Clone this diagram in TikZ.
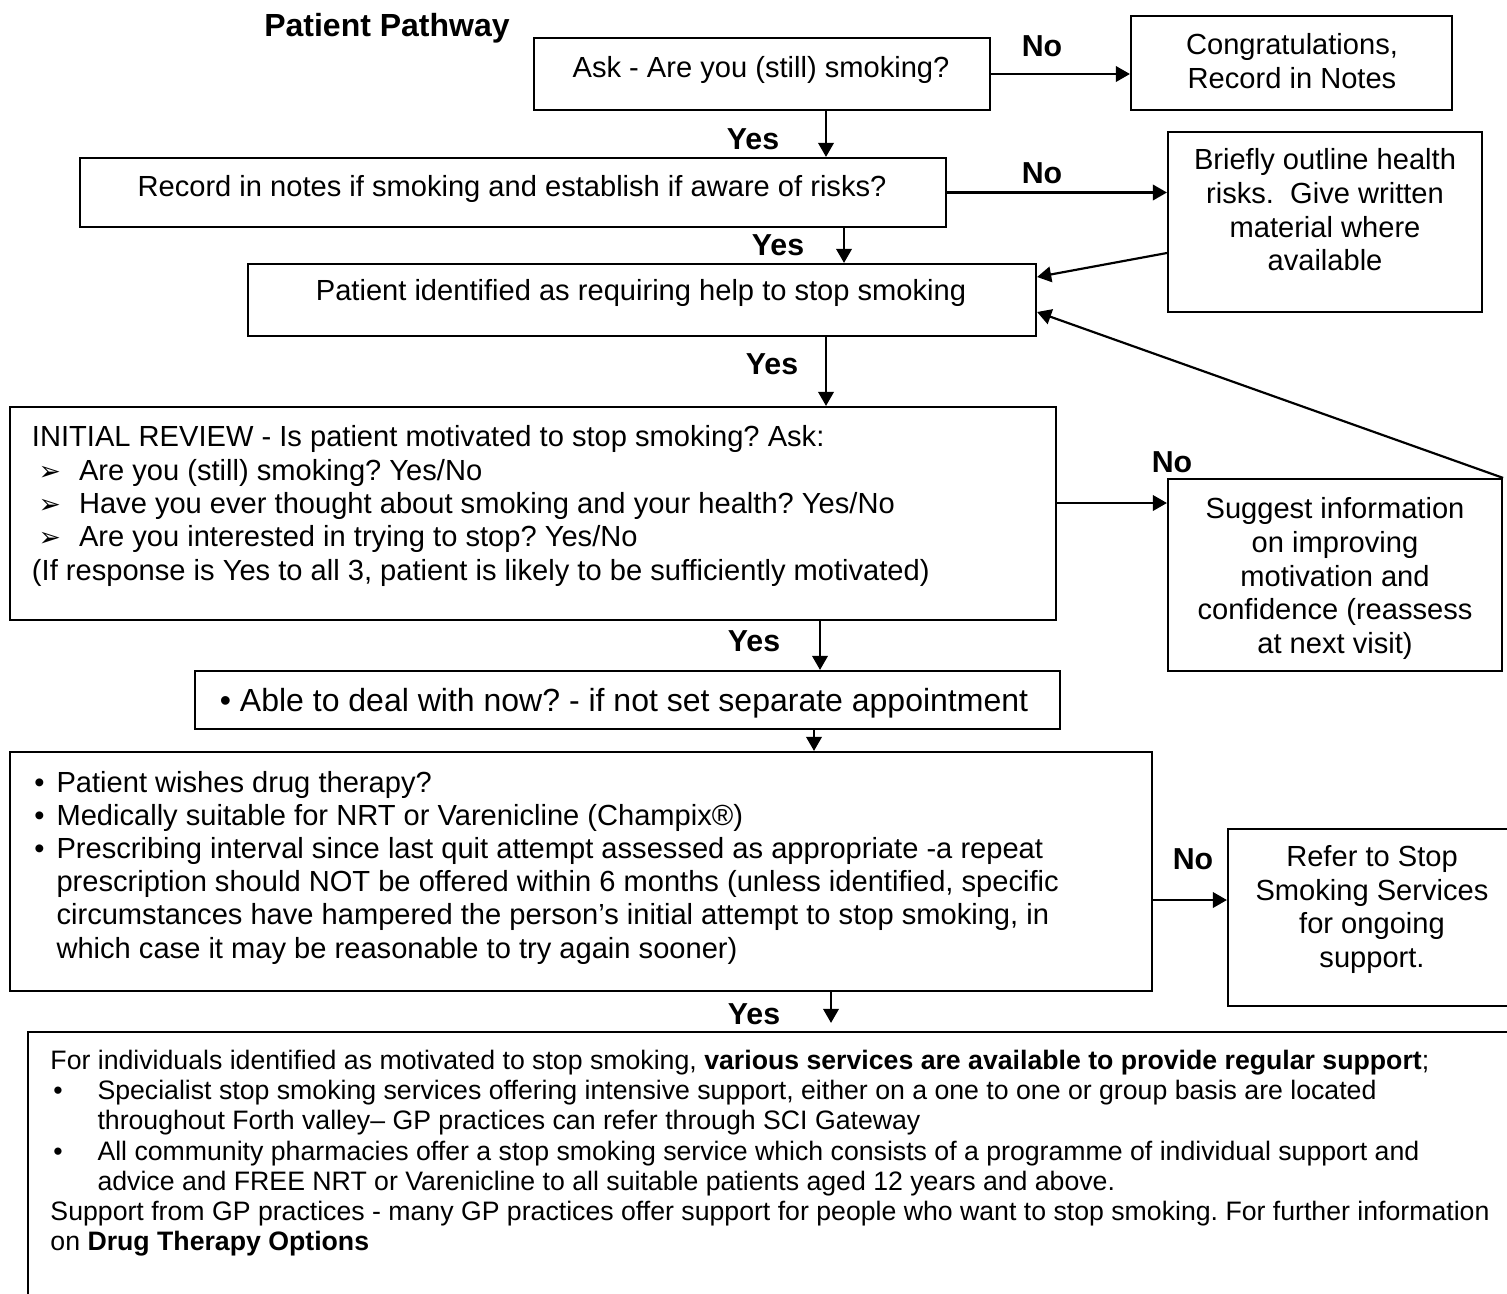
\documentclass[tikz,border=0pt]{standalone}
\usepackage{fontspec}
\setmainfont{Liberation Sans}
\newfontfamily\dejavu{DejaVu Sans}
\usetikzlibrary{arrows.meta}
\frenchspacing

\newcommand{\pxu}{0.4124pt}
\newcommand{\arrowbul}{{\dejavu\fontsize{11}{11}\selectfont ➢}}

\tikzset{
  box/.style={draw, line width=0.9pt, inner sep=0pt},
  txt/.style={inner sep=0pt, align=center, font=\fontsize{12}{13.9}\selectfont},
  lbl/.style={inner sep=0pt, font=\fontsize{12.5}{15}\selectfont\bfseries},
  flow/.style={line width=0.9pt, -{Triangle[length=5.8pt,width=6.4pt]}}
}

\begin{document}
\begin{tikzpicture}[x=\pxu, y=-\pxu]
\useasboundingbox (0,0) rectangle (1507,1293);
\clip (0,0) rectangle (1507,1293);

\node[inner sep=0pt, font=\fontsize{13.2}{16}\selectfont\bfseries] (title) at (387,28) {Patient Pathway};

% boxes
\node[box, minimum width=456*\pxu, minimum height=72*\pxu] (ask) at (762,74) {};
\node[box, minimum width=321*\pxu, minimum height=94*\pxu] (congrats) at (1291.5,63) {};
\node[box, minimum width=866*\pxu, minimum height=69*\pxu] (record) at (513,192.5) {};
\node[box, minimum width=314*\pxu, minimum height=180*\pxu] (brief) at (1325,222) {};
\node[box, minimum width=788*\pxu, minimum height=72*\pxu] (patient) at (642,300) {};
\node[box, minimum width=1046*\pxu, minimum height=213*\pxu] (review) at (533,513.5) {};
\node[box, minimum width=334*\pxu, minimum height=192*\pxu] (suggest) at (1335,575) {};
\node[box, minimum width=865*\pxu, minimum height=58*\pxu] (able) at (627.5,700) {};
\node[box, minimum width=1142*\pxu, minimum height=239*\pxu] (drug) at (581,871.5) {};
\node[box, minimum width=288*\pxu, minimum height=177*\pxu] (refer) at (1372,917.5) {};
\node[box, minimum width=1492*\pxu, minimum height=278*\pxu] (support) at (774,1171) {};

% texts
\node[txt] (asktext) at (761,70) {Ask - Are you (still) smoking?};
\node[txt] (congratstext) at (1292,61) {Congratulations,\\Record in Notes};
\node[txt] (recordtext) at (512,189) {Record in notes if smoking and establish if aware of risks?};
\node[txt] (brieftext) at (1325,210) {Briefly outline health\\risks.\ \ Give written\\material where\\available};
\node[txt] (patienttext) at (641,293) {Patient identified as requiring help to stop smoking};
\node[txt, align=left, anchor=north west, font=\fontsize{12}{13.8}\selectfont] (reviewtext) at (31.5,425) {%
INITIAL REVIEW - Is patient motivated to stop smoking? Ask:\\
\hspace*{2.7pt}\makebox[16.7pt][l]{\arrowbul}Are you (still) smoking? Yes/No\\
\hspace*{2.7pt}\makebox[16.7pt][l]{\arrowbul}Have you ever thought about smoking and your health? Yes/No\\
\hspace*{2.7pt}\makebox[16.7pt][l]{\arrowbul}Are you interested in trying to stop? Yes/No\\
(If response is Yes to all 3, patient is likely to be sufficiently motivated)};
\node[txt] (suggesttext) at (1335,578.5) {Suggest information\\on improving\\motivation and\\confidence (reassess\\at next visit)};
\node[txt, font=\fontsize{13.2}{15}\selectfont] (abletext) at (624,703) {\textbullet\ Able to deal with now? - if not set separate appointment};
\node[txt, align=left, anchor=north west, font=\fontsize{12}{13.7}\selectfont] (drugtext) at (34,770.5) {%
\makebox[9.1pt][l]{\textbullet}Patient wishes drug therapy?\\
\makebox[9.1pt][l]{\textbullet}Medically suitable for NRT or Varenicline (Champix®)\\
\makebox[9.1pt][l]{\textbullet}Prescribing interval since last quit attempt assessed as appropriate -a repeat\\
\hspace*{9.1pt}prescription should NOT be offered within 6 months (unless identified, specific\\
\hspace*{9.1pt}circumstances have hampered the person’s initial attempt to stop smoking, in\\
\hspace*{9.1pt}which case it may be reasonable to try again sooner)};
\node[txt] (refertext) at (1372,909.5) {Refer to Stop\\Smoking Services\\for ongoing\\support.};
\node[txt, align=left, anchor=north west, font=\fontsize{11}{12.4}\selectfont] (supporttext) at (50,1050) {%
For individuals identified as motivated to stop smoking, \textbf{various services are available to provide regular support};\\
\hspace*{1.2pt}\makebox[18.2pt][l]{\textbullet}Specialist stop smoking services offering intensive support, either on a one to one or group basis are located\\
\hspace*{19.4pt}throughout Forth valley– GP practices can refer through SCI Gateway\\
\hspace*{1.2pt}\makebox[18.2pt][l]{\textbullet}All community pharmacies offer a stop smoking service which consists of a programme of individual support and\\
\hspace*{19.4pt}advice and FREE NRT or Varenicline to all suitable patients aged 12 years and above.\\
Support from GP practices - many GP practices offer support for people who want to stop smoking. For further information\\
on \textbf{Drug Therapy Options}};

% yes / no labels
\node[lbl] (yes1) at (753,139) {Yes};
\node[lbl] (no1) at (1042,46) {No};
\node[lbl] (no2) at (1042,173) {No};
\node[lbl] (yes2) at (778,245) {Yes};
\node[lbl] (yes3) at (772,364) {Yes};
\node[lbl] (no3) at (1172,462) {No};
\node[lbl] (yes4) at (754,641) {Yes};
\node[lbl] (no4) at (1193,859) {No};
\node[lbl] (yes5) at (754,1014) {Yes};

% where the arrows run
\coordinate (colA) at (826,0);
\coordinate (colB) at (844,0);
\coordinate (colC) at (820,0);
\coordinate (colD) at (814,0);
\coordinate (colE) at (831,0);
\coordinate (rowA) at (0,503);
\coordinate (rowB) at (0,900);
\coordinate (rowC) at (0,253);
\coordinate (rowD) at (0,277);
\coordinate (rowE) at (0,312);

\draw[flow] (ask.east) -- (ask.east -| congrats.west);
\draw[flow] (ask.south -| colA) -- (record.north -| colA);
\draw[flow] (record.east) -- (record.east -| brief.west);
\draw[flow] (record.south -| colB) -- (patient.north -| colB);
\draw[flow] (brief.west |- rowC) -- (patient.east |- rowD);
\draw[flow] (suggest.north east) -- (patient.east |- rowE);
\draw[flow] (patient.south -| colA) -- (review.north -| colA);
\draw[flow] (review.east |- rowA) -- (suggest.west |- rowA);
\draw[flow] (review.south -| colC) -- (able.north -| colC);
\draw[flow] (able.south -| colD) -- (drug.north -| colD);
\draw[flow] (drug.east |- rowB) -- (refer.west |- rowB);
\draw[flow, shorten >=3.3pt] (drug.south -| colE) -- (support.north -| colE);
\end{tikzpicture}
\end{document}
